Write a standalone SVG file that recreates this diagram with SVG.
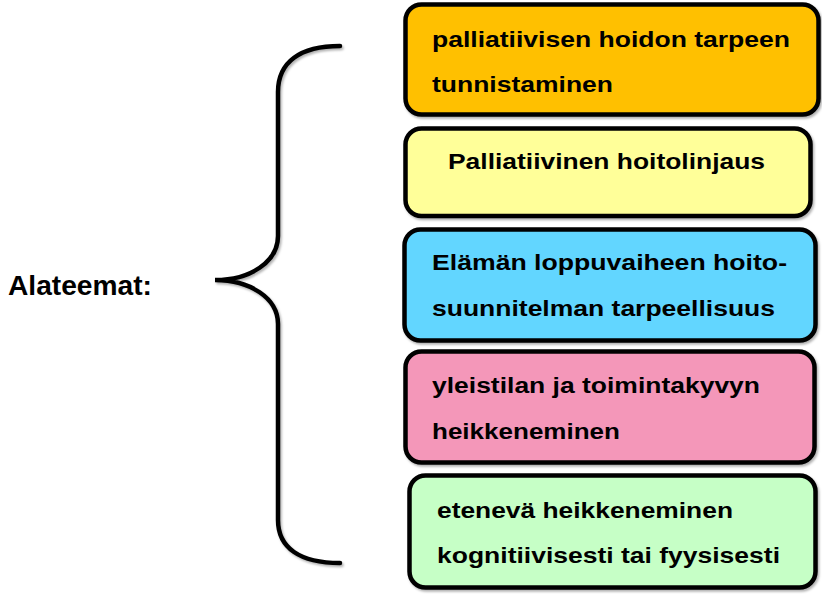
<svg xmlns="http://www.w3.org/2000/svg" width="822" height="595" viewBox="0 0 822 595">
<style>
.box{stroke:#000;stroke-width:4.5;filter:url(#sh)}
.t{font-family:"Liberation Sans",Arial,sans-serif;font-weight:bold;font-size:22.5px;fill:#000}
.brace{fill:none;stroke:#000;stroke-width:4.5;stroke-linecap:round;filter:url(#sh)}
</style>
<defs>
<filter id="sh" x="-5%" y="-5%" width="115%" height="115%">
<feDropShadow dx="1.5" dy="2" stdDeviation="1.2" flood-color="#000" flood-opacity="0.3"/>
</filter>
</defs>
<rect width="822" height="595" fill="#fff"/>
<text class="t" x="8" y="295" textLength="144" lengthAdjust="spacingAndGlyphs" style="font-size:28px">Alateemat:</text>
<g id="connectors">
<path class="brace" d="M340,46 C300,46 278,62 278,92 L278,236 C278,262 250,280 215,280 C250,280 278,298 278,324 L278,520 C278,548 300,563 340,563"/>
</g>
<g id="n1">
<rect class="box" x="405.5" y="4.5" width="413" height="110" rx="16" fill="#FFC000"/>
<text class="t" x="432" y="47" textLength="358" lengthAdjust="spacingAndGlyphs">palliatiivisen hoidon tarpeen</text>
<text class="t" x="432" y="92" textLength="181" lengthAdjust="spacingAndGlyphs">tunnistaminen</text>
</g>
<g id="n2">
<rect class="box" x="405.5" y="128.5" width="405" height="87.5" rx="16" fill="#FFFF99"/>
<text class="t" x="448" y="169" textLength="317" lengthAdjust="spacingAndGlyphs">Palliatiivinen hoitolinjaus</text>
</g>
<g id="n3">
<rect class="box" x="404.5" y="229.5" width="411" height="111" rx="16" fill="#62D6FF"/>
<text class="t" x="432" y="270" textLength="355" lengthAdjust="spacingAndGlyphs">Elämän loppuvaiheen hoito-</text>
<text class="t" x="432" y="316" textLength="343" lengthAdjust="spacingAndGlyphs">suunnitelman tarpeellisuus</text>
</g>
<g id="n4">
<rect class="box" x="405.5" y="351.5" width="409" height="111" rx="16" fill="#F497B9"/>
<text class="t" x="432" y="393" textLength="328" lengthAdjust="spacingAndGlyphs">yleistilan ja toimintakyvyn</text>
<text class="t" x="432" y="439" textLength="188" lengthAdjust="spacingAndGlyphs">heikkeneminen</text>
</g>
<g id="n5">
<rect class="box" x="409.5" y="475.5" width="406" height="112" rx="16" fill="#C6FFC6"/>
<text class="t" x="437" y="518" textLength="296" lengthAdjust="spacingAndGlyphs">etenevä heikkeneminen</text>
<text class="t" x="437" y="563" textLength="343" lengthAdjust="spacingAndGlyphs">kognitiivisesti tai fyysisesti</text>
</g>
</svg>
